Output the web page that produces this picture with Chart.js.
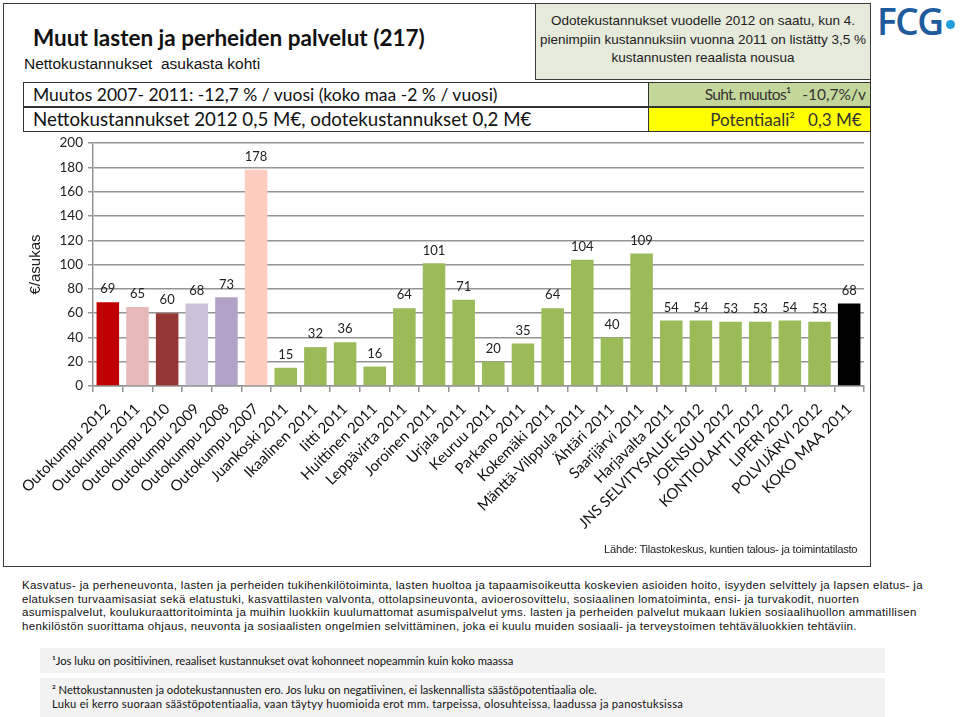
<!DOCTYPE html>
<html><head><meta charset="utf-8">
<script src="https://cdn.jsdelivr.net/npm/chart.js@4.4.1/dist/chart.umd.min.js"></script>
<style>
body{margin:0;width:960px;height:717px;background:#fff;position:relative;overflow:hidden;font-family:Lato,sans-serif;color:#111;}
.abs{position:absolute;white-space:nowrap;}
#frame{left:3px;top:3px;width:866px;height:562px;border:1.5px solid #3a3a3a;}
#hdrbox{left:535px;top:3px;width:335px;height:77px;background:#E6EADB;border-left:1.5px solid #3a3a3a;border-bottom:1.5px solid #3a3a3a;border-top:1.5px solid #3a3a3a;font-family:"Liberation Sans",Arial,sans-serif;font-size:13.5px;line-height:18.5px;text-align:center;color:#222;box-sizing:border-box;padding-top:8px;}
#title{left:33px;top:25px;font-size:22.5px;font-weight:bold;line-height:26px;}
#sub{left:24px;top:55px;font-family:"Liberation Sans",Arial,sans-serif;font-size:15.5px;line-height:18px;}
.row{left:23px;width:848px;height:25px;border:1px solid #333;box-sizing:border-box;line-height:23px;padding-left:9px;}
.cell{left:648px;width:223px;height:25px;box-sizing:border-box;border:1px solid #333;line-height:23px;text-align:right;padding-right:4px;color:#333;}
#chartwrap{left:0;top:130px;width:880px;height:420px;}
#lahde{left:604px;top:543px;font-family:"Liberation Sans",Arial,sans-serif;font-size:11.2px;letter-spacing:-0.24px;color:#222;}
#body{left:22px;top:579px;font-family:"Liberation Sans",Arial,sans-serif;font-size:11.5px;line-height:13.7px;letter-spacing:0.33px;color:#111;}
.fn{left:40px;width:845px;background:#F2F2F2;font-size:11.2px;line-height:14px;box-sizing:border-box;padding-left:12px;color:#111;}
#logo{left:877px;top:0px;font-size:37px;font-weight:600;color:#1E5C9E;letter-spacing:-1.5px;font-family:"Open Sans",Lato,sans-serif;line-height:42px;}
#dot{left:946px;top:20px;width:9px;height:9px;border-radius:50%;background:#1FA0DC;}
</style></head><body>
<div id="frame" class="abs"></div>
<div id="hdrbox" class="abs">Odotekustannukset vuodelle 2012 on saatu, kun 4.<br>pienimpiin kustannuksiin vuonna 2011 on listätty 3,5 %<br>kustannusten reaalista nousua</div>
<div id="title" class="abs">Muut lasten ja perheiden palvelut (217)</div>
<div id="sub" class="abs">Nettokustannukset&nbsp; asukasta kohti</div>
<div class="abs row" style="top:82px;font-size:17.5px;">Muutos 2007- 2011: -12,7 % / vuosi (koko maa -2 % / vuosi)</div>
<div class="abs row" style="top:107px;font-size:18.7px;">Nettokustannukset 2012 0,5 M€, odotekustannukset 0,2 M€</div>
<div class="abs cell" style="top:82px;background:#C4D79B;font-size:15.5px;"><span style="letter-spacing:-0.7px;">Suht. muutos¹</span>&nbsp;&nbsp; -10,7%/v</div>
<div class="abs cell" style="top:107px;background:#FFFF00;font-size:17px;">Potentiaali²&nbsp;&nbsp; 0,3 M€&nbsp;</div>
<div id="logo" class="abs">FCG</div>
<div id="dot" class="abs"></div>
<div id="chartwrap" class="abs"><canvas id="c"></canvas></div>
<div id="lahde" class="abs">Lähde: Tilastokeskus, kuntien talous- ja toimintatilasto</div>
<div id="body" class="abs">Kasvatus- ja perheneuvonta, lasten ja perheiden tukihenkilötoiminta, lasten huoltoa ja tapaamisoikeutta koskevien asioiden hoito, isyyden selvittely ja lapsen elatus- ja<br>elatuksen turvaamisasiat sekä elatustuki, kasvattilasten valvonta, ottolapsineuvonta, avioerosovittelu, sosiaalinen lomatoiminta, ensi- ja turvakodit, nuorten<br>asumispalvelut, koulukuraattoritoiminta ja muihin luokkiin kuulumattomat asumispalvelut yms. lasten ja perheiden palvelut mukaan lukien sosiaalihuollon ammatillisen<br>henkilöstön suorittama ohjaus, neuvonta ja sosiaalisten ongelmien selvittäminen, joka ei kuulu muiden sosiaali- ja terveystoimen tehtäväluokkien tehtäviin.</div>
<div class="abs fn" style="top:648px;height:25px;padding-top:6px;">¹Jos luku on positiivinen, reaaliset kustannukset ovat kohonneet nopeammin kuin koko maassa</div>
<div class="abs fn" style="top:678px;height:39px;padding-top:5px;">² Nettokustannusten ja odotekustannusten ero. Jos luku on negatiivinen, ei laskennallista säästöpotentiaalia ole.<br><span style="letter-spacing:0.25px;">Luku ei kerro suoraan säästöpotentiaalia, vaan täytyy huomioida erot mm. tarpeissa, olosuhteissa, laadussa ja panostuksissa</span></div>
<script>
const categories = ["Outokumpu 2012","Outokumpu 2011","Outokumpu 2010","Outokumpu 2009","Outokumpu 2008","Outokumpu 2007","Juankoski 2011","Ikaalinen 2011","Iitti 2011","Huittinen 2011","Leppävirta 2011","Joroinen 2011","Urjala 2011","Keuruu 2011","Parkano 2011","Kokemäki 2011","Mänttä-Vilppula 2011","Ähtäri 2011","Saarijärvi 2011","Harjavalta 2011","JNS SELVITYSALUE 2012","JOENSUU 2012","KONTIOLAHTI 2012","LIPERI 2012","POLVIJÄRVI 2012","KOKO MAA 2011"];
const values = [69,65,60,68,73,178,15,32,36,16,64,101,71,20,35,64,104,40,109,54,54,53,53,54,53,68];
const yMin = 0, yMax = 200, yStep = 20;
const barColors = ["#C00000","#E6B9B8","#953735","#CCC1DA","#B3A2C7","#FFCCC0"];
const greenColor = "#9BBB59", totalColor = "#000000";
const colors = categories.map((c,i)=> i < barColors.length ? barColors[i] : (i === categories.length-1 ? totalColor : greenColor));

const labelPlugin = {
  id:'barLabels',
  afterDatasetsDraw(chart){
    const ctx = chart.ctx;
    const meta = chart.getDatasetMeta(0);
    ctx.save();
    ctx.font = '13px Lato';
    ctx.fillStyle = '#222';
    ctx.textAlign = 'center';
    ctx.textBaseline = 'middle';
    meta.data.forEach((bar,i)=>{
      ctx.fillText(String(values[i]), bar.x, bar.y - 13);
    });
    ctx.restore();
  }
};
const gridColor = '#949494';
new Chart(document.getElementById('c'), {
  type:'bar',
  data:{labels:categories, datasets:[{data:values, backgroundColor:colors, barPercentage:0.76, categoryPercentage:1}]},
  options:{
    responsive:true, maintainAspectRatio:false, animation:false,
    layout:{padding:{top:10,right:16,left:0,bottom:0}},
    plugins:{legend:{display:false}, tooltip:{enabled:false}},
    scales:{
      y:{min:yMin,max:yMax,
        ticks:{stepSize:yStep,font:{family:'Lato',size:13.5},color:'#222',padding:5},
        grid:{color:gridColor,lineWidth:1.5,tickLength:5},
        border:{color:gridColor,width:1.5},
        title:{display:true,text:'€/asukas',font:{family:'Liberation Sans',size:15},color:'#222',padding:{top:27,bottom:0}},
        afterFit(s){s.width=93;}
      },
      x:{
        ticks:{autoSkip:false,maxRotation:45,minRotation:45,font:{family:'Lato',size:15},color:'#111',padding:8},
        grid:{drawOnChartArea:false,color:gridColor,lineWidth:1.5,tickLength:6,offset:true},
        border:{color:gridColor,width:1.5},
        afterFit(s){s.height=164;}
      }
    }
  },
  plugins:[labelPlugin]
});
</script>
</body></html>
